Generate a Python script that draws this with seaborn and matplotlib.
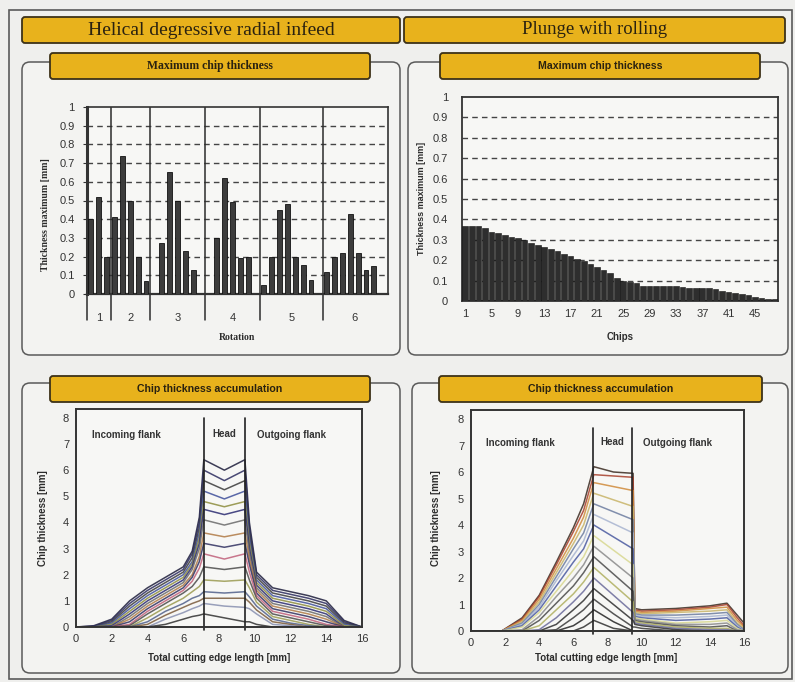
import numpy as np
import pandas as pd
import matplotlib
matplotlib.use("Agg")
import matplotlib.pyplot as plt
import seaborn as sns
from matplotlib.patches import FancyBboxPatch, Rectangle
from matplotlib.lines import Line2D

# ---------------- data ----------------
# helical degressive radial infeed: max chip thickness per cut, grouped by rotation
rotation_names = ["1", "2", "3", "4", "5", "6"]
cuts_per_rotation = [3, 5, 7, 7, 8, 8]
helical_thickness = [0.40, 0.52, 0.20,
                     0.41, 0.74, 0.50, 0.20, 0.07,
                     0.00, 0.275, 0.65, 0.50, 0.23, 0.13, 0.00,
                     0.00, 0.30, 0.62, 0.49, 0.19, 0.20, 0.00,
                     0.05, 0.20, 0.45, 0.48, 0.20, 0.155, 0.075, 0.00,
                     0.115, 0.20, 0.22, 0.43, 0.22, 0.13, 0.15, 0.00]

# plunge with rolling: max chip thickness per chip
chips = list(range(1, 49))
plunge_thickness = [0.37, 0.37, 0.37, 0.36, 0.34, 0.335, 0.325, 0.315, 0.31, 0.30,
                    0.285, 0.275, 0.265, 0.255, 0.245, 0.23, 0.22, 0.205, 0.195, 0.18,
                    0.165, 0.15, 0.135, 0.115, 0.10, 0.095, 0.09, 0.075, 0.072, 0.072,
                    0.072, 0.072, 0.072, 0.068, 0.066, 0.064, 0.064, 0.064, 0.06, 0.05,
                    0.045, 0.04, 0.035, 0.03, 0.02, 0.015, 0.01, 0.01]

# chip thickness accumulation, helical infeed (one list per accumulated cut)
x_helical = [0, 1, 2, 3, 4, 5, 6, 6.5, 6.9, 7.15, 8.3, 9.45, 9.7, 10.1, 11, 12, 13, 14, 15, 16]
helical_curves = [
    [0, 0.05, 0.3, 1.0, 1.5, 1.9, 2.3, 2.9, 4.2, 6.4, 6.0, 6.4, 4.0, 2.1, 1.5, 1.35, 1.2, 1.0, 0.25, 0],
    [0, 0.03, 0.25, 0.9, 1.4, 1.8, 2.2, 2.8, 4.0, 6.0, 5.6, 6.0, 3.8, 2.0, 1.4, 1.25, 1.1, 0.9, 0.2, 0],
    [0, 0, 0.2, 0.8, 1.3, 1.7, 2.1, 2.65, 3.8, 5.6, 5.25, 5.6, 3.6, 1.9, 1.3, 1.15, 1.0, 0.8, 0.15, 0],
    [0, 0, 0.15, 0.7, 1.2, 1.6, 2.0, 2.5, 3.6, 5.2, 4.9, 5.2, 3.4, 1.8, 1.2, 1.05, 0.9, 0.7, 0.1, 0],
    [0, 0, 0.1, 0.6, 1.1, 1.5, 1.9, 2.4, 3.4, 4.8, 4.6, 4.8, 3.2, 1.7, 1.1, 0.95, 0.8, 0.6, 0.05, 0],
    [0, 0, 0.05, 0.5, 1.0, 1.4, 1.8, 2.3, 3.2, 4.5, 4.3, 4.5, 3.0, 1.6, 1.0, 0.85, 0.7, 0.5, 0, 0],
    [0, 0, 0, 0.4, 0.9, 1.3, 1.7, 2.2, 3.0, 4.1, 3.9, 4.1, 2.8, 1.5, 0.9, 0.75, 0.6, 0.4, 0, 0],
    [0, 0, 0, 0.3, 0.8, 1.2, 1.6, 2.0, 2.7, 3.6, 3.45, 3.6, 2.6, 1.4, 0.8, 0.65, 0.5, 0.3, 0, 0],
    [0, 0, 0, 0.2, 0.7, 1.1, 1.5, 1.9, 2.5, 3.2, 3.05, 3.2, 2.4, 1.3, 0.7, 0.55, 0.4, 0.2, 0, 0],
    [0, 0, 0, 0.1, 0.6, 1.0, 1.4, 1.75, 2.25, 2.8, 2.6, 2.8, 2.1, 1.2, 0.6, 0.45, 0.3, 0.1, 0, 0],
    [0, 0, 0, 0.05, 0.5, 0.9, 1.3, 1.55, 1.9, 2.3, 2.2, 2.3, 1.8, 1.1, 0.5, 0.35, 0.2, 0.05, 0, 0],
    [0, 0, 0, 0, 0.35, 0.75, 1.1, 1.35, 1.55, 1.8, 1.75, 1.8, 1.5, 0.95, 0.4, 0.25, 0.1, 0, 0, 0],
    [0, 0, 0, 0, 0.2, 0.6, 0.9, 1.1, 1.2, 1.35, 1.3, 1.35, 1.15, 0.8, 0.3, 0.15, 0.05, 0, 0, 0],
    [0, 0, 0, 0, 0.1, 0.45, 0.75, 0.9, 1.0, 1.1, 1.1, 1.1, 0.95, 0.65, 0.2, 0.1, 0, 0, 0, 0],
    [0, 0, 0, 0, 0, 0.3, 0.55, 0.7, 0.8, 0.9, 0.8, 0.75, 0.7, 0.5, 0.1, 0.05, 0, 0, 0, 0],
    [0, 0, 0, 0, 0, 0.1, 0.3, 0.4, 0.45, 0.5, 0.35, 0.2, 0.2, 0.1, 0, 0, 0, 0, 0, 0],
]
helical_colors = ["#1c1c3a", "#2b2b5e", "#3a3a3a", "#3f4f9a", "#8c8c3c", "#2a2a70",
                  "#6a6a6a", "#b07a45", "#303060", "#c0607a", "#4a4a4a", "#9a9a50",
                  "#50608a", "#7a5a3a", "#8890b0", "#303030"]

# chip thickness accumulation, plunge with rolling
x_plunge = [0, 1.8, 3.0, 4.0, 5.0, 6.0, 6.6, 7.2, 8.35, 9.5, 9.6, 10.0, 12.0, 14.0, 15.0, 15.6, 16.0]
plunge_curves = [
    [0, 0, 0.5, 1.35, 2.6, 3.9, 4.8, 6.2, 6.0, 5.95, 0.85, 0.8, 0.85, 0.95, 1.05, 0.6, 0.3],
    [0, 0, 0.45, 1.3, 2.5, 3.75, 4.55, 5.9, 5.85, 5.8, 0.8, 0.75, 0.8, 0.9, 1.0, 0.5, 0.2],
    [0, 0, 0.4, 1.2, 2.35, 3.5, 4.3, 5.6, 5.45, 5.3, 0.75, 0.7, 0.75, 0.85, 0.9, 0.4, 0.15],
    [0, 0, 0.35, 1.1, 2.2, 3.3, 4.0, 5.2, 4.95, 4.7, 0.7, 0.65, 0.7, 0.75, 0.8, 0.3, 0.1],
    [0, 0, 0.3, 1.0, 2.05, 3.1, 3.7, 4.8, 4.5, 4.2, 0.65, 0.6, 0.6, 0.65, 0.7, 0.25, 0.05],
    [0, 0, 0.25, 0.9, 1.9, 2.85, 3.4, 4.4, 4.05, 3.7, 0.6, 0.55, 0.5, 0.55, 0.6, 0.2, 0],
    [0, 0, 0.2, 0.8, 1.7, 2.6, 3.1, 4.0, 3.55, 3.1, 0.55, 0.5, 0.4, 0.45, 0.5, 0.15, 0],
    [0, 0, 0.15, 0.7, 1.5, 2.3, 2.8, 3.6, 3.05, 2.5, 0.5, 0.45, 0.3, 0.35, 0.4, 0.1, 0],
    [0, 0, 0.05, 0.55, 1.3, 2.0, 2.5, 3.2, 2.6, 2.0, 0.45, 0.4, 0.25, 0.25, 0.3, 0.05, 0],
    [0, 0, 0, 0.4, 1.05, 1.7, 2.2, 2.8, 2.15, 1.5, 0.4, 0.35, 0.2, 0.15, 0.2, 0, 0],
    [0, 0, 0, 0.2, 0.8, 1.4, 1.85, 2.4, 1.75, 1.1, 0.35, 0.3, 0.15, 0.1, 0.1, 0, 0],
    [0, 0, 0, 0.05, 0.5, 1.1, 1.5, 2.0, 1.35, 0.7, 0.3, 0.25, 0.1, 0.05, 0.05, 0, 0],
    [0, 0, 0, 0, 0.25, 0.8, 1.15, 1.6, 1.0, 0.4, 0.25, 0.2, 0.05, 0, 0, 0, 0],
    [0, 0, 0, 0, 0.05, 0.5, 0.8, 1.2, 0.65, 0.15, 0.15, 0.1, 0, 0, 0, 0, 0],
    [0, 0, 0, 0, 0, 0.2, 0.45, 0.8, 0.35, 0, 0, 0, 0, 0, 0, 0, 0],
    [0, 0, 0, 0, 0, 0, 0.15, 0.4, 0.1, 0, 0, 0, 0, 0, 0, 0, 0],
]
plunge_colors = ["#3a2a20", "#a8402c", "#d08a3a", "#c8b468", "#6d7da0", "#a8b4d0",
                 "#4a5aa0", "#d8d890", "#8a8a8a", "#4a4a4a", "#b0b060", "#6a6a9a",
                 "#2e2e2e", "#3a3a3a", "#222222", "#303030"]

# zone borders on the cutting edge [mm]
head_start, head_end = 7.15, 9.45

# ---------------- figure ----------------
W, H = 795, 682
sns.set_theme(style="white")
plt.rcParams['font.family'] = ['Liberation Sans', 'DejaVu Sans']
fig = plt.figure(figsize=(W / 100, H / 100), dpi=100, facecolor="#efefed")

bg = fig.add_axes([0, 0, 1, 1])
bg.set_xlim(0, W)
bg.set_ylim(H, 0)
bg.axis("off")

EDGE = "#5a5a5a"
YELLOW = "#e8b21c"
DARK = "#2c2c2c"


def box(x0, y0, x1, y1, fc, ec, lw, r):
    bg.add_patch(FancyBboxPatch((x0, y0), x1 - x0, y1 - y0,
                                boxstyle=f"round,pad=0,rounding_size={r}",
                                fc=fc, ec=ec, lw=lw))


def px_axes(l, t, r, b):
    a = fig.add_axes([l / W, 1 - b / H, (r - l) / W, (b - t) / H])
    a.set_facecolor("#f7f7f5")
    return a


# outer frame and panel boxes
bg.add_patch(Rectangle((9, 10), 783, 669, fc="none", ec=EDGE, lw=1.2))
for (x0, y0, x1, y1) in [(22, 62, 400, 355), (408, 62, 788, 355),
                         (22, 383, 400, 673), (412, 383, 788, 673)]:
    box(x0, y0, x1, y1, "#f3f3f1", EDGE, 1.1, 8)

# title bars
box(22, 17, 400, 43, YELLOW, "#3d3218", 1.3, 3)
box(404, 17, 785, 43, YELLOW, "#3d3218", 1.3, 3)
bg.text(211, 30, "Helical degressive radial infeed", ha="center", va="center",
        family="Liberation Serif", fontsize=14, color="#2a2210")
bg.text(595, 30, "Plunge with rolling", ha="center", va="center",
        family="Liberation Serif", fontsize=13.5, color="#2a2210")

for (x0, x1, y0, y1, txt, fam, fs) in [
        (50, 370, 53, 79, "Maximum chip thickness", "Liberation Serif", 8.5),
        (440, 760, 53, 79, "Maximum chip thickness", "Liberation Sans", 7.6),
        (50, 370, 376, 402, "Chip thickness accumulation", "Liberation Sans", 7.6),
        (439, 762, 376, 402, "Chip thickness accumulation", "Liberation Sans", 7.6)]:
    box(x0, y0, x1, y1, YELLOW, "#3d3218", 1.3, 3)
    bg.text((x0 + x1) / 2, (y0 + y1) / 2, txt, ha="center", va="center",
            family=fam, fontsize=fs, fontweight="bold", color="#2a2210")

tick_kw = dict(labelsize=8, colors="#333333", labelcolor="#333333")

# ---------------- top left: helical bars ----------------
ax1 = px_axes(87, 107, 388, 294)
slots = list(range(len(helical_thickness)))
sns.barplot(x=slots, y=helical_thickness, ax=ax1, color="#3c3c3c",
            edgecolor="#111111", linewidth=0.6, width=0.62, saturation=1)
for p in ax1.patches:
    p.set_zorder(3)
ax1.set_xlim(-0.5, len(slots) - 0.2)
ax1.set_ylim(0, 1.0)
ax1.set_yticks(np.arange(0, 1.01, 0.1))
ax1.set_yticklabels(["0"] + [f"{v:.1f}" for v in np.arange(0.1, 0.95, 0.1)] + ["1"])
for v in np.arange(0.1, 0.95, 0.1):
    ax1.axhline(v, color="#444444", lw=1.0, ls=(0, (4, 3)), zorder=1)
edges = np.concatenate([[-0.5], np.cumsum(cuts_per_rotation) - 0.5])
centers = (edges[:-1] + edges[1:]) / 2
ax1.set_xticks(centers)
ax1.set_xticklabels(rotation_names)
ax1.set_xticks(np.arange(0.5, len(slots) - 1, 1), minor=True)
ax1.tick_params(axis="x", which="major", length=0, pad=14, **tick_kw)
ax1.tick_params(axis="x", which="minor", length=3, width=0.8, color="#333333", direction="out")
ax1.tick_params(axis="y", length=3, width=0.8, pad=6, direction="out", left=True, **tick_kw)
for e in edges[1:-1]:
    ax1.axvline(e, color=DARK, lw=1.1, zorder=2)
for e in edges[:-1]:
    ax1.add_line(Line2D([e, e], [0, -0.14], color=DARK, lw=1.1, clip_on=False))
for s in ax1.spines.values():
    s.set_color("#333333")
    s.set_linewidth(1.2)
ax1.spines["left"].set_linewidth(2.2)
ax1.spines["bottom"].set_linewidth(1.6)
ax1.set_xlabel("")
ax1.set_ylabel("")
bg.text(237, 338, "Rotation", ha="center", va="center", family="Liberation Serif",
        fontsize=7, fontweight="bold", color=DARK)
bg.text(46, 215, "Thickness maximum [mm]", ha="center", va="center", rotation=90,
        family="Liberation Serif", fontsize=7, fontweight="bold", color=DARK)

# ---------------- top right: plunge bars ----------------
ax2 = px_axes(462, 97, 778, 301)
sns.barplot(x=chips, y=plunge_thickness, ax=ax2, color="#2e2e2e",
            edgecolor="#111111", linewidth=0.4, width=0.86, saturation=1)
for p in ax2.patches:
    p.set_zorder(3)
ax2.set_xlim(-0.5, len(chips) - 0.5)
ax2.set_ylim(0, 1.0)
ax2.set_yticks(np.arange(0, 1.01, 0.1))
ax2.set_yticklabels(["0"] + [f"{v:.1f}" for v in np.arange(0.1, 0.95, 0.1)] + ["1"])
for v in np.arange(0.1, 0.95, 0.1):
    ax2.axhline(v, color="#444444", lw=1.0, ls=(0, (4, 3)), zorder=1)
ax2.set_xticks(range(0, len(chips), 4))
ax2.set_xticklabels([str(c) for c in chips[::4]])
ax2.tick_params(axis="x", length=0, pad=6, **tick_kw)
ax2.tick_params(axis="y", length=0, pad=10, **tick_kw)
for s in ax2.spines.values():
    s.set_color("#333333")
    s.set_linewidth(1.3)
ax2.set_xlabel("")
ax2.set_ylabel("")
bg.text(620, 337, "Chips", ha="center", va="center", family="Liberation Sans",
        fontsize=7, fontweight="bold", color=DARK)
bg.text(422, 198, "Thickness maximum [mm]", ha="center", va="center", rotation=90,
        family="Liberation Sans", fontsize=6.5, fontweight="bold", color=DARK)


# ---------------- bottom: accumulation curves ----------------
def accumulation(ax, xs, curves, colors, vtop, label_y):
    rows = []
    for i, ys in enumerate(curves):
        for x, y in zip(xs, ys):
            rows.append({"x": x, "y": y, "curve": f"c{i:02d}"})
    df = pd.DataFrame(rows)
    pal = {f"c{i:02d}": colors[i] for i in range(len(curves))}
    sns.lineplot(data=df, x="x", y="y", hue="curve", palette=pal, sort=False,
                 estimator=None, legend=False, lw=1.1, alpha=0.85, ax=ax)
    ax.set_xlim(0, 16)
    ax.set_ylim(0, 8.34)
    ax.set_xticks(range(0, 17, 2))
    ax.set_yticks(range(0, 9))
    ax.tick_params(axis="both", length=0, pad=5, **tick_kw)
    for xv in (head_start, head_end):
        ax.add_line(Line2D([xv, xv], [-0.12, vtop], color="#222222", lw=1.2, clip_on=False))
    for s in ax.spines.values():
        s.set_color("#333333")
        s.set_linewidth(1.4)
    ax.set_xlabel("")
    ax.set_ylabel("")
    kw = dict(fontsize=7, fontweight="bold", color="#333333", va="center")
    ax.text(0.9, label_y, "Incoming flank", ha="left", **kw)
    ax.text((head_start + head_end) / 2, label_y + 0.05, "Head", ha="center", **kw)
    ax.text(10.1, label_y, "Outgoing flank", ha="left", **kw)


ax3 = px_axes(76, 409, 362, 627)
accumulation(ax3, x_helical, helical_curves, helical_colors, 7.98, 7.35)
ax4 = px_axes(471, 410, 744, 631)
accumulation(ax4, x_plunge, plunge_curves, plunge_colors, 7.65, 7.1)

bg.text(219, 658, "Total cutting edge length [mm]", ha="center", va="center",
        fontsize=7, fontweight="bold", color=DARK)
bg.text(606, 658, "Total cutting edge length [mm]", ha="center", va="center",
        fontsize=7, fontweight="bold", color=DARK)
bg.text(43, 518, "Chip thickness [mm]", ha="center", va="center", rotation=90,
        fontsize=7, fontweight="bold", color=DARK)
bg.text(436, 518, "Chip thickness [mm]", ha="center", va="center", rotation=90,
        fontsize=7, fontweight="bold", color=DARK)

fig.savefig("out.png", dpi=100, facecolor=fig.get_facecolor())
